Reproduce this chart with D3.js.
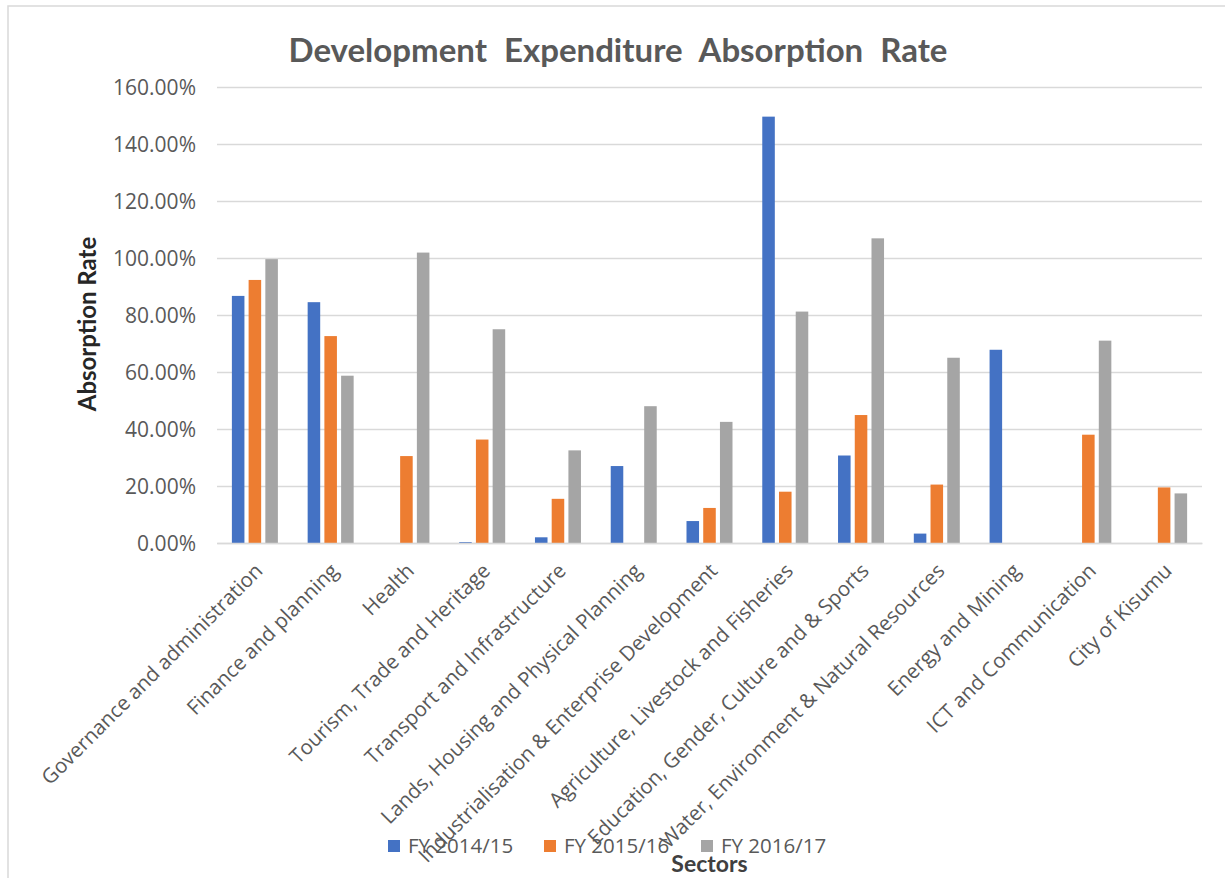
<!DOCTYPE html>
<html>
<head>
<meta charset="utf-8">
<script src="https://cdn.jsdelivr.net/npm/d3@7"></script>
<style>
  html, body { margin: 0; padding: 0; background: #fff; }
  svg { display: block; font-family: "Open Sans", Lato, sans-serif; }
</style>
</head>
<body>
<svg id="chart" width="1225" height="878"></svg>
<script>
const categories = [
  "Governance and administration",
  "Finance and planning",
  "Health",
  "Tourism, Trade and Heritage",
  "Transport and Infrastructure",
  "Lands, Housing and Physical Planning",
  "Industrialisation & Enterprise Development",
  "Agriculture, Livestock and Fisheries",
  "Education, Gender, Culture and & Sports",
  "Water, Environment & Natural Resources",
  "Energy and Mining",
  "ICT and Communication",
  "City of Kisumu"
];
const seriesNames = ["FY 2014/15", "FY 2015/16", "FY 2016/17"];
const fy2014 = [86.7, 84.5, 0, 0.3, 2.0, 27.0, 7.7, 149.6, 30.7, 3.3, 67.8, 0, 0];
const fy2015 = [92.3, 72.6, 30.5, 36.3, 15.5, 0, 12.3, 18.0, 44.9, 20.5, 0, 38.0, 19.5];
const fy2016 = [99.6, 58.7, 101.9, 75.0, 32.5, 48.0, 42.5, 81.2, 106.9, 65.0, 0, 71.0, 17.4];
const yTicks = [0, 20, 40, 60, 80, 100, 120, 140, 160];
const colors = ["#4472C4", "#ED7D31", "#A5A5A5"];

(function () {
const series = [fy2014, fy2015, fy2016];
const svg = d3.select("#chart");
const textColor = "#595959";

// chart border
svg.append("rect").attr("x", 8).attr("y", 6).attr("width", 1240).attr("height", 900)
  .attr("fill", "none").attr("stroke", "#d9d9d9").attr("stroke-width", 1.5);

const pl = 217, pr = 1202, pt = 87, pb = 543;
const x = d3.scaleBand().domain(categories).range([pl, pr]);
const y = d3.scaleLinear().domain([0, 160]).range([pb, pt]);
const inner = d3.scaleBand().domain(d3.range(3)).range([-23, 23]).paddingInner(0.25);

// gridlines + y tick labels
const yAxis = d3.axisLeft(y).tickValues(yTicks).tickSize(-(pr - pl))
  .tickFormat(d => d.toFixed(2) + "%");
const gy = svg.append("g").attr("transform", `translate(${pl},0)`).call(yAxis);
gy.select(".domain").remove();
gy.selectAll(".tick line").attr("stroke", "#d9d9d9").attr("stroke-width", 1.5);
gy.selectAll(".tick text").attr("x", -21).attr("dy", "0.36em")
  .attr("fill", textColor).style("font-size", "21px").style("font-family", "'Open Sans', sans-serif");

// bars
series.forEach((vals, si) => {
  const data = vals.map((v, i) => ({ c: categories[i], v })).filter(d => d.v > 0);
  svg.append("g").selectAll("rect").data(data).enter().append("rect")
    .attr("x", d => x(d.c) + x.bandwidth() / 2 + inner(si))
    .attr("width", inner.bandwidth())
    .attr("y", d => y(d.v))
    .attr("height", d => Math.max(1.5, y(0) - y(d.v)))
    .attr("fill", colors[si]);
});

// x axis
const xAxis = d3.axisBottom(x).tickSize(0);
const gx = svg.append("g").attr("transform", `translate(0,${pb})`).call(xAxis);
gx.select(".domain").attr("stroke", "#d9d9d9").attr("stroke-width", 1.5);
gx.selectAll(".tick text")
  .attr("text-anchor", "end")
  .attr("fill", textColor)
  .style("font-size", "20.5px").style("font-family", "'Open Sans', sans-serif")
  .attr("transform", "translate(4,24) rotate(-45)")
  .attr("dy", "0.35em").attr("y", 0);

// title
svg.append("text").attr("x", 618).attr("y", 62).attr("text-anchor", "middle")
  .attr("fill", textColor).style("font-family", "Lato, sans-serif")
  .style("font-size", "33px").style("font-weight", "bold").style("word-spacing", "9px")
  .text("Development Expenditure Absorption Rate");

// axis titles
svg.append("text").attr("transform", "translate(96,324) rotate(-90)")
  .attr("text-anchor", "middle").attr("fill", "#262626").style("font-family", "Lato, sans-serif")
  .style("font-size", "24px").style("font-weight", "bold").text("Absorption Rate");
svg.append("text").attr("x", (pl + pr) / 2).attr("y", 872)
  .attr("text-anchor", "middle").attr("fill", "#404040").style("font-family", "Lato, sans-serif")
  .style("font-size", "23px").style("font-weight", "bold").text("Sectors");

// legend
const legendX = [388, 544, 701];
const lg = svg.append("g");
seriesNames.forEach((n, i) => {
  lg.append("rect").attr("x", legendX[i]).attr("y", 840).attr("width", 12).attr("height", 12)
    .attr("fill", colors[i]);
  lg.append("text").attr("x", legendX[i] + 20).attr("y", 853)
    .attr("fill", textColor).style("font-size", "20.5px").text(n);
});
})();
</script>
</body>
</html>
